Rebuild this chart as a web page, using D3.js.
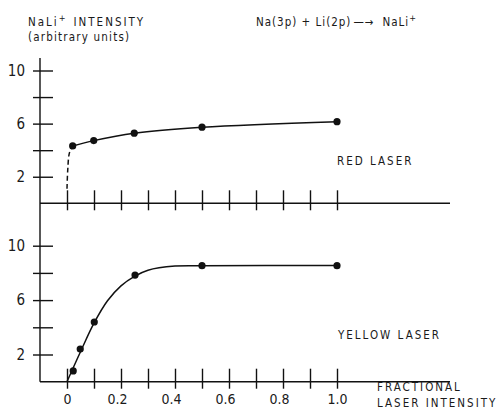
<!DOCTYPE html>
<html>
<head>
<meta charset="utf-8">
<script src="https://cdn.jsdelivr.net/npm/d3@7"></script>
<style>
  body { margin: 0; background: #fff; }
  svg { display: block; }
  text { font-family: "DejaVu Sans Condensed", "DejaVu Sans", sans-serif; fill: #1a1a1a; }
  .lbl { font-size: 11.5px; letter-spacing: 2px; }
</style>
</head>
<body>
<svg width="502" height="409"></svg>
<script>
// fractional laser intensity of each measurement
var redX = [0.021, 0.099, 0.249, 0.50, 1.0];
var redY = [4.32, 4.72, 5.28, 5.73, 6.15];
// dashed lead-in of the red curve towards zero
var redLeadX = [0, 0.003, 0.009, 0.021];
var redLeadY = [1.1, 2.6, 3.8, 4.32];

var yellowX = [0.023, 0.049, 0.101, 0.252, 0.50, 1.0];
var yellowY = [0.79, 2.4, 4.39, 7.84, 8.53, 8.53];
// smooth fitted curve for yellow laser
var yellowFitX = [0, 0.05, 0.1, 0.15, 0.2, 0.25, 0.3, 0.4, 0.5, 1.0];
var yellowFitY = [0, 2.2, 4.3, 5.95, 7.05, 7.75, 8.2, 8.5, 8.53, 8.55];

var xTicks = [0, 0.1, 0.2, 0.3, 0.4, 0.5, 0.6, 0.7, 0.8, 0.9, 1.0];
var xTickLabels = {0: "0", 0.2: "0.2", 0.4: "0.4", 0.6: "0.6", 0.8: "0.8", 1: "1.0"};
var yTicks = [2, 4, 6, 8, 10];
var yTickLabels = {2: "2", 6: "6", 10: "10"};

var svg = d3.select("svg");
var axisX0 = 40, axisX1 = 450;

var x = d3.scaleLinear().domain([0, 1]).range([67, 337]);
var yTop = d3.scaleLinear().domain([0, 10]).range([203.3, 70.5]);
var yBot = d3.scaleLinear().domain([0, 10]).range([381.7, 245.7]);

function zip(a, b) { return a.map(function(v, i) { return [v, b[i]]; }); }

// long vertical axis
svg.append("line")
	.attr("x1", axisX0).attr("x2", axisX0)
	.attr("y1", 58).attr("y2", yBot(0))
	.attr("stroke", "#111").attr("stroke-width", 1.4);

function yAxis(y) {
	var g = svg.append("g")
		.attr("transform", "translate(" + axisX0 + ",0)")
		.call(d3.axisLeft(y)
			.tickValues(yTicks)
			.tickSize(7)
			.tickPadding(8)
			.tickFormat(function(d) { return yTickLabels[d] || ""; }));
	g.select(".domain").remove();
	g.selectAll(".tick line").attr("x1", 13).attr("stroke", "#111").attr("stroke-width", 1.4);
	g.selectAll(".tick text").attr("fill", "#1a1a1a").style("font-size", "15px");
}

function xAxis(y, labels) {
	svg.append("line")
		.attr("x1", axisX0).attr("x2", axisX1)
		.attr("y1", y(0)).attr("y2", y(0))
		.attr("stroke", "#111").attr("stroke-width", 1.4);
	var g = svg.append("g")
		.attr("transform", "translate(0," + y(0) + ")")
		.call(d3.axisBottom(x)
			.tickValues(xTicks)
			.tickSize(7)
			.tickPadding(5)
			.tickFormat(function(d) { return labels ? (xTickLabels[Math.round(d * 10) / 10] || "") : ""; }));
	g.select(".domain").remove();
	g.selectAll(".tick line").attr("y1", -13).attr("stroke", "#111").attr("stroke-width", 1.4);
	g.selectAll(".tick text").attr("fill", "#1a1a1a").style("font-size", "14px")
		.attr("dx", function(d) { return d > 0 && d < 1 ? -4 : 0; });
}

yAxis(yTop);
yAxis(yBot);
xAxis(yTop, false);
xAxis(yBot, true);

function curve(y, pts, dashed) {
	svg.append("path")
		.datum(pts)
		.attr("fill", "none")
		.attr("stroke", "#111")
		.attr("stroke-width", 1.5)
		.attr("stroke-dasharray", dashed ? "5,3" : null)
		.attr("d", d3.line()
			.x(function(d) { return x(d[0]); })
			.y(function(d) { return y(d[1]); })
			.curve(d3.curveCatmullRom));
}

function dots(y, pts) {
	svg.append("g").selectAll("circle")
		.data(pts)
		.join("circle")
		.attr("cx", function(d) { return x(d[0]); })
		.attr("cy", function(d) { return y(d[1]); })
		.attr("r", 3.6)
		.attr("fill", "#111");
}

curve(yTop, zip(redLeadX, redLeadY), true);
curve(yTop, zip(redX, redY), false);
dots(yTop, zip(redX, redY));

curve(yBot, zip(yellowFitX, yellowFitY), false);
dots(yBot, zip(yellowX, yellowY));

// labels
var t = svg.append("text").attr("class", "lbl").attr("x", 28).attr("y", 26);
t.append("tspan").text("NaLi");
t.append("tspan").attr("dy", -5).style("font-size", "9px").text("+");
t.append("tspan").attr("dy", 5).attr("dx", 6).text("INTENSITY");
svg.append("text").attr("class", "lbl").attr("x", 28).attr("y", 41).style("letter-spacing", "1.2px").text("(arbitrary units)");

var r = svg.append("text").attr("class", "lbl").attr("x", 256).attr("y", 26).style("letter-spacing", "1px");
r.append("tspan").text("Na(3p) + Li(2p)");
r.append("tspan").attr("dx", 2).text("\u2014\u2192");
r.append("tspan").attr("dx", 8).text("NaLi");
r.append("tspan").attr("dy", -5).style("font-size", "9px").text("+");

svg.append("text").attr("class", "lbl").attr("x", 337).attr("y", 165).text("RED LASER");
svg.append("text").attr("class", "lbl").attr("x", 338).attr("y", 339).text("YELLOW LASER");
svg.append("text").attr("class", "lbl").attr("x", 377).attr("y", 391).text("FRACTIONAL");
svg.append("text").attr("class", "lbl").attr("x", 377).attr("y", 407).text("LASER  INTENSITY");
</script>
</body>
</html>
